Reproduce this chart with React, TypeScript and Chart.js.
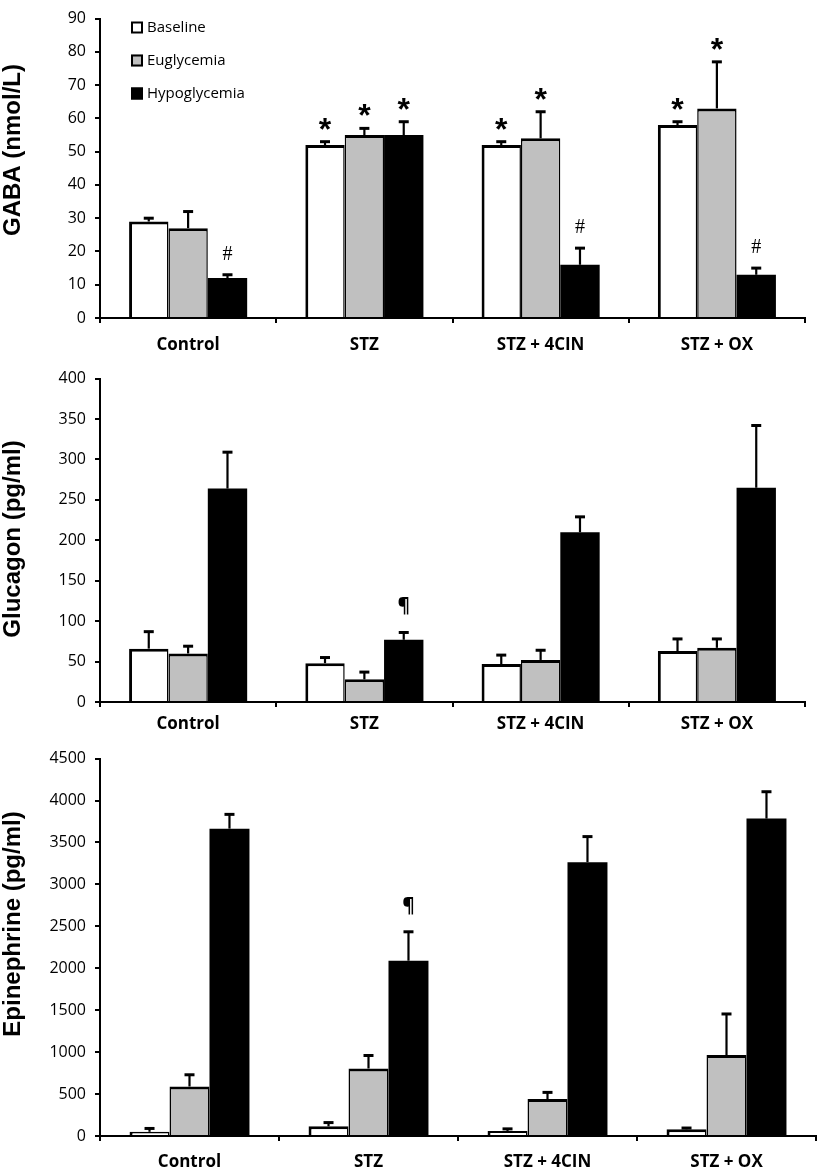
import React, { useEffect, useRef } from "react";
import { Chart, registerables } from "chart.js";

Chart.register(...registerables);

// ---------- data ----------
const categories = ["Control", "STZ", "STZ + 4CIN", "STZ + OX"];
const seriesNames = ["Baseline", "Euglycemia", "Hypoglycemia"];

// GABA (nmol/L)
const gabaBaseline = [29, 52, 52, 58];
const gabaEuglycemia = [27, 55, 54, 63];
const gabaHypoglycemia = [12, 55, 16, 13];
const gabaBaselineErr = [1, 1, 1, 1];
const gabaEuglycemiaErr = [5, 2, 8, 14];
const gabaHypoglycemiaErr = [1, 4, 5, 2];
const gabaBaselineMarks = ["", "*", "*", "*"];
const gabaEuglycemiaMarks = ["", "*", "*", "*"];
const gabaHypoglycemiaMarks = ["#", "*", "#", "#"];

// Glucagon (pg/ml)
const glucagonBaseline = [66, 48, 47, 63];
const glucagonEuglycemia = [60, 28, 52, 67];
const glucagonHypoglycemia = [264, 77, 210, 265];
const glucagonBaselineErr = [21, 7, 11, 15];
const glucagonEuglycemiaErr = [9, 9, 12, 11];
const glucagonHypoglycemiaErr = [45, 9, 19, 77];
const glucagonBaselineMarks = ["", "", "", ""];
const glucagonEuglycemiaMarks = ["", "", "", ""];
const glucagonHypoglycemiaMarks = ["", "¶", "", ""];

// Epinephrine (pg/ml)
const epiBaseline = [50, 115, 60, 80];
const epiEuglycemia = [590, 805, 440, 965];
const epiHypoglycemia = [3665, 2090, 3265, 3785];
const epiBaselineErr = [40, 45, 25, 15];
const epiEuglycemiaErr = [140, 155, 80, 490];
const epiHypoglycemiaErr = [170, 345, 305, 320];
const epiBaselineMarks = ["", "", "", ""];
const epiEuglycemiaMarks = ["", "", "", ""];
const epiHypoglycemiaMarks = ["", "¶", "", ""];

const gabaTicks = { max: 90, step: 10 };
const glucagonTicks = { max: 400, step: 50 };
const epiTicks = { max: 4500, step: 500 };

// ---------- styles ----------
const seriesColors = ["#ffffff", "#c0c0c0", "#000000"];
const seriesBorders = [
  { top: 3, left: 3, right: 1.5, bottom: 0 },
  { top: 3, left: 1.5, right: 1.5, bottom: 0 },
  0,
];
const markStyles: Record<string, { font: string; dy: number }> = {
  "*": { font: "bold 32px 'Liberation Sans', Arial, sans-serif", dy: -2 },
  "#": { font: "20px 'Liberation Serif', serif", dy: -15 },
  "¶": { font: "bold 19px 'Open Sans', sans-serif", dy: -20 },
};

// ---------- plugins ----------
const errorBarPlugin = {
  id: "errorBars",
  afterDatasetsDraw(chart: any) {
    const ctx = chart.ctx;
    const yScale = chart.scales.y;
    chart.data.datasets.forEach((ds: any, di: number) => {
      const meta = chart.getDatasetMeta(di);
      meta.data.forEach((bar: any, i: number) => {
        const v = ds.data[i];
        const e = ds.errors[i];
        const yTop = yScale.getPixelForValue(v + e);
        ctx.save();
        ctx.strokeStyle = "#000";
        ctx.lineWidth = 2.2;
        ctx.beginPath();
        ctx.moveTo(bar.x, bar.y);
        ctx.lineTo(bar.x, yTop);
        ctx.stroke();
        ctx.lineWidth = 3;
        ctx.beginPath();
        ctx.moveTo(bar.x - 5, yTop);
        ctx.lineTo(bar.x + 5, yTop);
        ctx.stroke();
        const m = ds.marks[i];
        if (m) {
          const st = markStyles[m];
          ctx.fillStyle = "#000";
          ctx.font = st.font;
          ctx.textAlign = "center";
          ctx.textBaseline = "alphabetic";
          ctx.fillText(m, bar.x, yTop + st.dy);
        }
        ctx.restore();
      });
    });
  },
};

const yTitlePlugin = {
  id: "yTitle",
  afterDraw(chart: any, _args: any, opts: any) {
    if (!opts || !opts.text) return;
    const ctx = chart.ctx;
    ctx.save();
    ctx.translate(opts.x, opts.y);
    ctx.rotate(-Math.PI / 2);
    ctx.fillStyle = "#000";
    ctx.font = "bold 24px 'Liberation Sans', Arial, sans-serif";
    ctx.textAlign = "center";
    ctx.textBaseline = "alphabetic";
    ctx.fillText(opts.text, 0, 0);
    ctx.restore();
  },
};

const inlineLegendPlugin = {
  id: "inlineLegend",
  afterDraw(chart: any, _args: any, opts: any) {
    if (!opts || !opts.show) return;
    const ctx = chart.ctx;
    ctx.save();
    chart.data.datasets.forEach((ds: any, i: number) => {
      const cy = opts.y + i * opts.gap;
      ctx.fillStyle = ds.backgroundColor;
      ctx.fillRect(opts.x, cy - 6, 12, 12);
      ctx.strokeStyle = "#000";
      ctx.lineWidth = 2;
      ctx.strokeRect(opts.x + 1, cy - 5, 10, 10);
      ctx.fillStyle = "#000";
      ctx.font = "15px 'Open Sans', sans-serif";
      ctx.textAlign = "left";
      ctx.textBaseline = "middle";
      ctx.fillText(ds.label, opts.x + 16, cy);
    });
    ctx.restore();
  },
};

type PanelProps = {
  top: number;
  height: number;
  width: number;
  chartTop: number;
  chartBottom: number;
  chartLeft: number;
  chartRight: number;
  yMax: number;
  yStep: number;
  title: string;
  titleY: number;
  labelPad: number;
  values: number[][];
  errors: number[][];
  marks: string[][];
  legend: boolean;
};

function Panel(p: PanelProps) {
  const ref = useRef<HTMLCanvasElement>(null);
  useEffect(() => {
    const chart = new Chart(ref.current as HTMLCanvasElement, {
      type: "bar",
      data: {
        labels: categories,
        datasets: p.values.map((vals, i) => ({
          label: seriesNames[i],
          data: vals,
          errors: p.errors[i],
          marks: p.marks[i],
          backgroundColor: seriesColors[i],
          borderColor: "#000",
          borderWidth: seriesBorders[i],
          borderSkipped: "start",
          barPercentage: 1,
          categoryPercentage: 0.67,
        })) as any,
      },
      options: {
        responsive: false,
        animation: false,
        events: [],
        layout: {
          padding: { top: p.chartTop, right: p.width - p.chartRight, left: 0, bottom: 0 },
        },
        plugins: {
          legend: { display: false },
          tooltip: { enabled: false },
          yTitle: { text: p.title, x: 19.5, y: p.titleY },
          inlineLegend: { show: p.legend, x: 131, y: 27.5, gap: 33 },
        } as any,
        scales: {
          x: {
            offset: true,
            grid: {
              display: true,
              offset: true,
              drawOnChartArea: false,
              drawTicks: true,
              tickLength: 5,
              color: "#000",
              lineWidth: 2,
            },
            border: { display: true, color: "#000", width: 2 },
            ticks: {
              color: "#000",
              font: { family: "'Open Sans', sans-serif", size: 17, weight: "bold" },
              padding: p.labelPad,
              maxRotation: 0,
              autoSkip: false,
            },
            afterFit: (s: any) => {
              s.height = p.height - p.chartBottom;
            },
          },
          y: {
            min: 0,
            max: p.yMax,
            ticks: {
              stepSize: p.yStep,
              color: "#000",
              font: { family: "'Open Sans', sans-serif", size: 16 },
              padding: 9,
              callback: (v: any) => String(v),
            },
            grid: {
              drawOnChartArea: false,
              drawTicks: true,
              tickLength: 5,
              color: "#000",
              lineWidth: 2,
            },
            border: { display: true, color: "#000", width: 2 },
            afterFit: (s: any) => {
              s.width = p.chartLeft;
            },
          },
        },
      },
      plugins: [errorBarPlugin, yTitlePlugin, inlineLegendPlugin],
    });
    return () => chart.destroy();
  }, []);
  return (
    <canvas
      ref={ref}
      width={p.width}
      height={p.height}
      style={{ position: "absolute", left: 0, top: p.top, display: "block" }}
    />
  );
}

export default function App() {
  return (
    <div
      style={{
        position: "absolute",
        left: 0,
        top: 0,
        width: 819,
        height: 1170,
        background: "#fff",
        overflow: "hidden",
      }}
    >
      <Panel
        top={0}
        height={360}
        width={819}
        chartTop={9}
        chartBottom={318}
        chartLeft={100}
        chartRight={805}
        yMax={gabaTicks.max}
        yStep={gabaTicks.step}
        title="GABA (nmol/L)"
        titleY={150}
        labelPad={12}
        values={[gabaBaseline, gabaEuglycemia, gabaHypoglycemia]}
        errors={[gabaBaselineErr, gabaEuglycemiaErr, gabaHypoglycemiaErr]}
        marks={[gabaBaselineMarks, gabaEuglycemiaMarks, gabaHypoglycemiaMarks]}
        legend={true}
      />
      <Panel
        top={360}
        height={380}
        width={819}
        chartTop={11}
        chartBottom={342}
        chartLeft={100}
        chartRight={805}
        yMax={glucagonTicks.max}
        yStep={glucagonTicks.step}
        title="Glucagon (pg/ml)"
        titleY={179}
        labelPad={7}
        values={[glucagonBaseline, glucagonEuglycemia, glucagonHypoglycemia]}
        errors={[glucagonBaselineErr, glucagonEuglycemiaErr, glucagonHypoglycemiaErr]}
        marks={[glucagonBaselineMarks, glucagonEuglycemiaMarks, glucagonHypoglycemiaMarks]}
        legend={false}
      />
      <Panel
        top={740}
        height={430}
        width={819}
        chartTop={16}
        chartBottom={396}
        chartLeft={100}
        chartRight={816}
        yMax={epiTicks.max}
        yStep={epiTicks.step}
        title="Epinephrine (pg/ml)"
        titleY={184}
        labelPad={11}
        values={[epiBaseline, epiEuglycemia, epiHypoglycemia]}
        errors={[epiBaselineErr, epiEuglycemiaErr, epiHypoglycemiaErr]}
        marks={[epiBaselineMarks, epiEuglycemiaMarks, epiHypoglycemiaMarks]}
        legend={false}
      />
    </div>
  );
}
